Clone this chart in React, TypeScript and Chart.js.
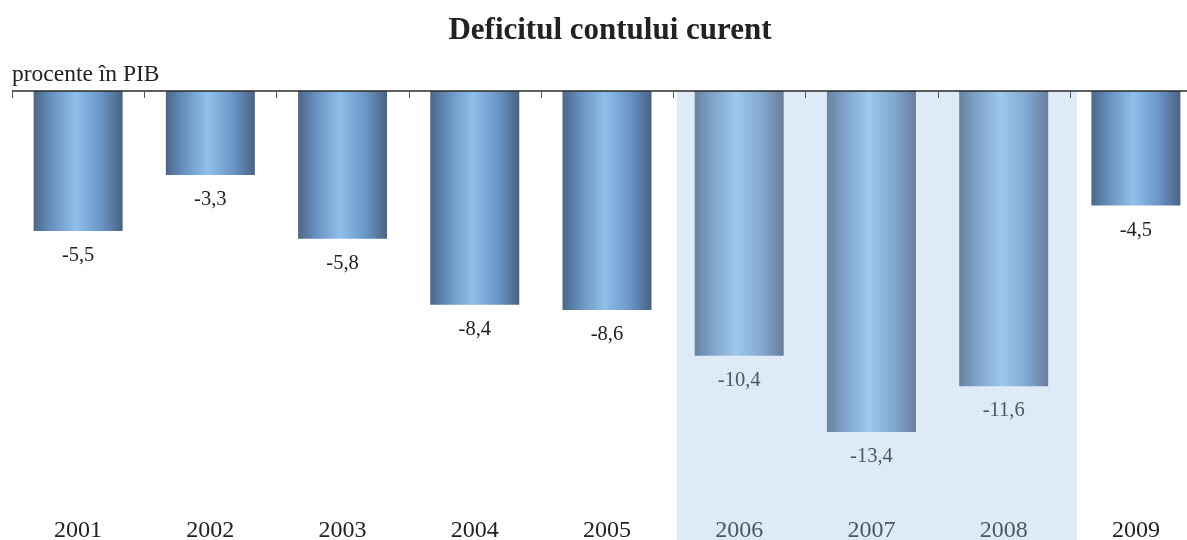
import React, { useEffect, useRef } from "react";
import { Chart, registerables } from "chart.js";

Chart.register(...registerables);

const years = ["2001", "2002", "2003", "2004", "2005", "2006", "2007", "2008", "2009"];
const deficit = [-5.5, -3.3, -5.8, -8.4, -8.6, -10.4, -13.4, -11.6, -4.5];
const highlighted = ["2006", "2007", "2008"];
const titleText = "Deficitul contului curent";
const unitText = "procente în PIB";

const SERIF = "'Liberation Serif', 'DejaVu Serif', serif";
const BAR_PCT = 0.673;
const fmt = (v: number) => v.toFixed(1).replace(".", ",");

// fine diamond lattice used for the highlighted period
function makeHatch(base: string, line: string): CanvasPattern | string {
  const c = document.createElement("canvas");
  c.width = 4;
  c.height = 4;
  const g = c.getContext("2d");
  if (!g) return base;
  g.fillStyle = base;
  g.fillRect(0, 0, 4, 4);
  g.fillStyle = line;
  g.fillRect(0, 0, 1, 1);
  g.fillRect(1, 1, 1, 1);
  g.fillRect(2, 2, 1, 1);
  g.fillRect(3, 3, 1, 1);
  g.fillRect(3, 1, 1, 1);
  g.fillRect(1, 3, 1, 1);
  const p = g.createPattern(c, "repeat");
  return p || base;
}

export default function App() {
  const ref = useRef<HTMLCanvasElement>(null);

  useEffect(() => {
    document.body.style.margin = "0";
    document.body.style.overflow = "hidden";
    const canvas = ref.current;
    if (!canvas) return;

    // horizontal shading across each bar: dark edges, light centre
    const barGradient = (ctx: any) => {
      const chart = ctx.chart;
      const xs = chart.scales && chart.scales.x;
      if (!xs || !chart.chartArea || ctx.dataIndex === undefined) return "#7aa8d8";
      const cx = xs.getPixelForValue(ctx.dataIndex);
      const step = xs.getPixelForValue(1) - xs.getPixelForValue(0);
      const w = step * BAR_PCT;
      if (!Number.isFinite(cx) || !Number.isFinite(w) || w <= 0) return "#7aa8d8";
      const x0 = cx - w / 2;
      const g = chart.ctx.createLinearGradient(x0, 0, x0 + w, 0);
      g.addColorStop(0, "#4b6788");
      g.addColorStop(0.2, "#6890bf");
      g.addColorStop(0.47, "#8ec0e8");
      g.addColorStop(0.75, "#6b97c8");
      g.addColorStop(1, "#4a6283");
      return g;
    };

    const shadeBounds = (chart: any) => {
      const xs = chart.scales.x;
      const step = xs.getPixelForValue(1) - xs.getPixelForValue(0);
      const first = years.indexOf(highlighted[0]);
      const last = years.indexOf(highlighted[highlighted.length - 1]);
      return {
        left: xs.getPixelForValue(first) - step / 2 + 4,
        right: xs.getPixelForValue(last) + step / 2 + 7,
      };
    };

    const decor = {
      id: "decor",
      beforeDatasetsDraw(chart: any) {
        const { ctx } = chart;
        const y0 = chart.scales.y.getPixelForValue(0);
        const { left, right } = shadeBounds(chart);
        ctx.save();
        ctx.fillStyle = makeHatch("#d9e7f6", "#e6f0fa");
        ctx.fillRect(left, y0, right - left, chart.height - y0);
        ctx.restore();
      },
      afterDraw(chart: any) {
        const { ctx, chartArea } = chart;
        const xs = chart.scales.x;
        const ys = chart.scales.y;
        const meta = chart.getDatasetMeta(0);
        const step = xs.getPixelForValue(1) - xs.getPixelForValue(0);
        const y0 = ys.getPixelForValue(0);
        const { left, right } = shadeBounds(chart);
        ctx.save();

        // light veil over the bars of the highlighted period
        ctx.fillStyle = makeHatch("rgba(222,236,250,0.14)", "rgba(232,242,252,0.2)");
        ctx.fillRect(left, y0 + 1, right - left, chart.height - y0);

        const isShaded = (i: number) => highlighted.includes(years[i]);

        // title and unit
        ctx.fillStyle = "#222";
        ctx.textAlign = "center";
        ctx.textBaseline = "alphabetic";
        ctx.font = `bold 31px ${SERIF}`;
        ctx.fillText(titleText, 610, 39);
        ctx.textAlign = "left";
        ctx.font = `23.5px ${SERIF}`;
        ctx.fillText(unitText, 12, 81);

        // value labels under each bar
        ctx.textAlign = "center";
        ctx.font = `20.5px ${SERIF}`;
        meta.data.forEach((bar: any, i: number) => {
          ctx.fillStyle = isShaded(i) ? "#4d5866" : "#222";
          ctx.fillText(fmt(deficit[i]), bar.x, bar.y + 30);
        });

        // category labels along the bottom
        ctx.font = `24px ${SERIF}`;
        years.forEach((yr, i) => {
          ctx.fillStyle = isShaded(i) ? "#4d5866" : "#222";
          ctx.fillText(yr, xs.getPixelForValue(i), 537);
        });

        // axis line at zero with tick marks between categories
        ctx.strokeStyle = "#2a2a2a";
        ctx.lineWidth = 1.5;
        ctx.beginPath();
        ctx.moveTo(chartArea.left, y0);
        ctx.lineTo(chartArea.right, y0);
        ctx.stroke();
        ctx.lineWidth = 1;
        ctx.strokeStyle = "#555";
        for (let i = 0; i <= years.length; i++) {
          const x = Math.round(xs.getPixelForValue(i) - step / 2) + 0.5;
          ctx.beginPath();
          ctx.moveTo(x, y0);
          ctx.lineTo(x, y0 + 7);
          ctx.stroke();
        }
        ctx.restore();
      },
    };

    const chart = new Chart(canvas, {
      type: "bar",
      data: {
        labels: years,
        datasets: [
          {
            data: deficit,
            backgroundColor: barGradient,
            borderWidth: 0,
            barPercentage: BAR_PCT,
            categoryPercentage: 1,
          },
        ],
      },
      options: {
        responsive: false,
        animation: false,
        layout: { padding: { top: 91, left: 12, right: 13, bottom: 0 } },
        plugins: { legend: { display: false }, title: { display: false }, tooltip: { enabled: false } },
        scales: {
          x: { display: false },
          y: { display: false, min: -17.64, max: 0 },
        },
      },
      plugins: [decor],
    });
    return () => chart.destroy();
  }, []);

  return (
    <div style={{ position: "relative", width: 1187, height: 540, overflow: "hidden", background: "#fff" }}>
      <canvas ref={ref} width={1215} height={540} style={{ display: "block" }} />
    </div>
  );
}
